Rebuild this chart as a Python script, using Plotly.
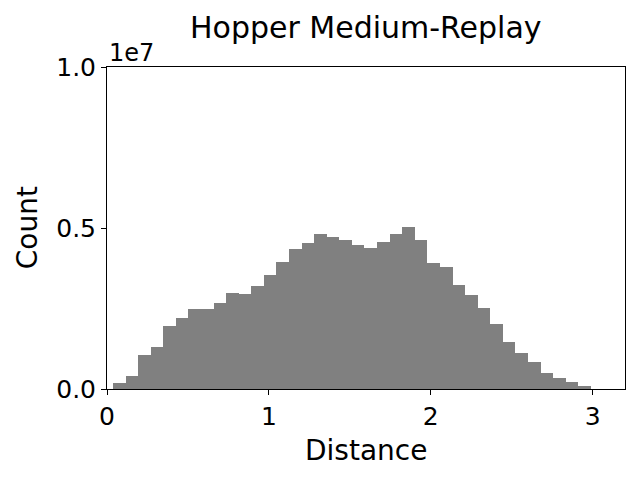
import numpy as np
import plotly.graph_objects as go

# histogram of distances, 38 equal bins
bin_lo = 0.037
bin_hi = 2.989
counts = [
    0.187e6, 0.415e6, 1.058e6, 1.318e6, 1.960e6, 2.210e6, 2.490e6, 2.490e6,
    2.677e6, 2.988e6, 2.957e6, 3.206e6, 3.548e6, 3.953e6, 4.357e6, 4.544e6,
    4.824e6, 4.731e6, 4.637e6, 4.482e6, 4.388e6, 4.575e6, 4.824e6, 5.042e6,
    4.637e6, 3.922e6, 3.797e6, 3.237e6, 2.926e6, 2.521e6, 2.023e6, 1.463e6,
    1.120e6, 0.840e6, 0.498e6, 0.342e6, 0.218e6, 0.093e6,
]
y_tickvals = [0, 5e6, 1e7]
y_ticktext = ["0.0", "0.5", "1.0"]
x_tickvals = [0, 1, 2, 3]

edges = np.linspace(bin_lo, bin_hi, len(counts) + 1)
width = edges[1] - edges[0]

FONT = "DejaVu Sans"

fig = go.Figure(go.Bar(
    x=edges[:-1], y=counts, width=width, offset=0,
    marker=dict(color="#808080", line=dict(width=0)),
))

axis_style = dict(
    showline=True, linecolor="black", linewidth=1, mirror=True,
    ticks="outside", ticklen=5, tickwidth=1, tickcolor="black",
    showgrid=False, zeroline=False,
    tickfont=dict(family=FONT, size=25, color="black"),
)

fig.update_layout(
    width=640, height=480,
    margin=dict(l=107, r=15, t=67, b=91),
    plot_bgcolor="white", paper_bgcolor="white",
    bargap=0, showlegend=False,
    xaxis=dict(range=[0, 3.2], tickvals=x_tickvals, **axis_style),
    yaxis=dict(range=[0, 1e7], tickvals=y_tickvals, ticktext=y_ticktext, **axis_style),
    annotations=[
        dict(text="Hopper Medium-Replay", x=0.5, y=1.124, xref="paper", yref="paper",
             showarrow=False, xanchor="center", yanchor="middle",
             font=dict(family=FONT, size=30, color="black")),
        dict(text="Distance", x=0.5, y=-0.19, xref="paper", yref="paper",
             showarrow=False, xanchor="center", yanchor="middle",
             font=dict(family=FONT, size=28, color="black")),
        dict(text="Count", x=-0.154, y=0.5, xref="paper", yref="paper", textangle=-90,
             showarrow=False, xanchor="center", yanchor="middle",
             font=dict(family=FONT, size=28, color="black")),
        dict(text="1e7", x=0, y=1.042, xref="paper", yref="paper",
             showarrow=False, xanchor="left", yanchor="middle",
             font=dict(family=FONT, size=24, color="black")),
    ],
)

# drop the browser's default body margin so the figure sits at (0, 0)
fig.write_html("out.html", config={"displayModeBar": False},
               post_script="document.body.style.margin = '0';")
